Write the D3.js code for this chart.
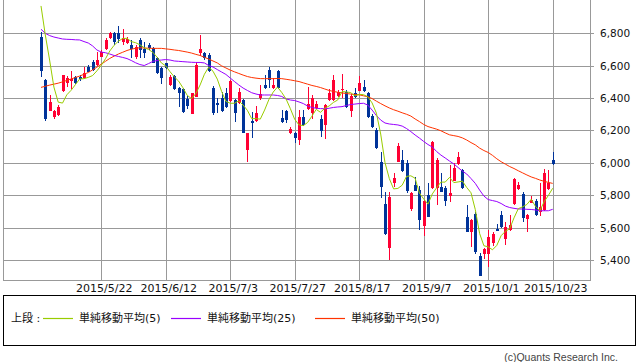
<!DOCTYPE html>
<html>
<head>
<meta charset="utf-8">
<script src="https://cdn.jsdelivr.net/npm/d3@7"></script>
<style>
  body { margin: 0; background: #fff; }
</style>
</head>
<body>
<div id="chart"></div>
<script>
// tick labels on the date axis, by trading-day index
var tickIdx = [14, 29, 44, 59, 74, 89, 104, 119];
var tickLabels = ["2015/5/22", "2015/6/12", "2015/7/3", "2015/7/27", "2015/8/17", "2015/9/7", "2015/10/1", "2015/10/23"];
var priceTicks = [5400, 5600, 5800, 6000, 6200, 6400, 6600, 6800];

// daily candles
var open = [6779, 6512, 6322, 6285, 6295, 6445, 6495, 6505, 6528, 6532,
  6522, 6594, 6623, 6604, 6655, 6701, 6769, 6800, 6800, 6746,
  6740, 6728, 6652, 6759, 6703, 6728, 6709, 6647, 6586, 6617,
  6481, 6536, 6462, 6456, 6394, 6302, 6407, 6678, 6678, 6666,
  6462, 6369, 6400, 6431, 6382, 6388, 6369, 6391, 6079, 6261,
  6258, 6399, 6481, 6573, 6462, 6570, 6274, 6323, 6186, 6182,
  6138, 6285, 6331, 6308, 6339, 6271, 6234, 6388, 6388, 6413,
  6450, 6439, 6322, 6431, 6445, 6470, 6429, 6289, 6203, 6007,
  5746, 5472, 5877, 6007, 6017, 5997, 5715, 5863, 5835, 5610,
  5801, 5843, 5847, 5851, 5844, 5795, 5890, 5991, 5956, 5667,
  5574, 5684, 5427, 5434, 5434, 5505, 5589, 5678, 5528, 5585,
  5747, 5838, 5810, 5651, 5754, 5767, 5696, 5708, 5836, 6017];
var high = [6810, 6518, 6419, 6326, 6357, 6542, 6536, 6569, 6536, 6542,
  6594, 6602, 6635, 6686, 6697, 6771, 6808, 6808, 6845, 6827,
  6777, 6759, 6728, 6773, 6748, 6742, 6715, 6654, 6592, 6618,
  6542, 6542, 6468, 6462, 6413, 6431, 6625, 6790, 6686, 6678,
  6474, 6400, 6437, 6462, 6512, 6394, 6462, 6394, 6184, 6314,
  6351, 6481, 6542, 6592, 6524, 6573, 6326, 6326, 6221, 6190,
  6326, 6326, 6470, 6419, 6379, 6295, 6363, 6456, 6542, 6450,
  6549, 6450, 6425, 6462, 6536, 6512, 6437, 6301, 6215, 6069,
  5822, 5822, 5937, 6122, 6079, 6017, 5820, 5912, 5857, 5770,
  5875, 6135, 6030, 5939, 5857, 5986, 5999, 6069, 5962, 5739,
  5653, 5696, 5445, 5474, 5585, 5573, 5622, 5702, 5636, 5678,
  5906, 5882, 5817, 5684, 5795, 5776, 5875, 5962, 5956, 6069];
var low = [6528, 6260, 6320, 6269, 6289, 6439, 6466, 6454, 6487, 6507,
  6516, 6561, 6567, 6600, 6653, 6697, 6765, 6728, 6740, 6728,
  6734, 6647, 6641, 6647, 6647, 6697, 6615, 6549, 6487, 6580,
  6474, 6450, 6345, 6310, 6332, 6302, 6407, 6660, 6635, 6563,
  6295, 6308, 6314, 6339, 6376, 6254, 6363, 6184, 6007, 6151,
  6252, 6388, 6456, 6462, 6456, 6456, 6246, 6246, 6181, 6122,
  6110, 6227, 6326, 6271, 6332, 6160, 6149, 6382, 6382, 6407,
  6400, 6339, 6283, 6400, 6443, 6440, 6277, 6215, 6085, 5783,
  5554, 5400, 5853, 6005, 5943, 5814, 5704, 5826, 5585, 5548,
  5665, 5838, 5739, 5820, 5733, 5760, 5888, 5986, 5838, 5573,
  5478, 5440, 5301, 5406, 5358, 5486, 5579, 5597, 5492, 5579,
  5742, 5832, 5636, 5574, 5749, 5672, 5672, 5702, 5832, 5986];
var close = [6569, 6269, 6376, 6318, 6343, 6541, 6522, 6518, 6491, 6516,
  6553, 6563, 6573, 6635, 6686, 6759, 6800, 6748, 6763, 6769,
  6765, 6701, 6714, 6697, 6678, 6709, 6617, 6557, 6524, 6586,
  6530, 6456, 6431, 6316, 6351, 6431, 6604, 6703, 6647, 6569,
  6308, 6360, 6320, 6345, 6505, 6310, 6437, 6186, 6184, 6249,
  6308, 6425, 6462, 6512, 6478, 6462, 6255, 6264, 6209, 6156,
  6285, 6234, 6363, 6400, 6366, 6198, 6357, 6433, 6512, 6439,
  6459, 6347, 6413, 6407, 6491, 6445, 6285, 6223, 6090, 5849,
  5560, 5791, 5906, 6104, 5951, 5826, 5815, 5828, 5650, 5764,
  5668, 6129, 6020, 5822, 5766, 5815, 5968, 6038, 5847, 5574,
  5647, 5449, 5304, 5465, 5539, 5560, 5581, 5604, 5602, 5616,
  5898, 5863, 5662, 5678, 5773, 5678, 5727, 5939, 5877, 5994];

// moving averages
var ma5 = [6969, 6790, 6635, 6468, 6375, 6369, 6420, 6448, 6483, 6518,
  6520, 6528, 6539, 6568, 6602, 6643, 6691, 6726, 6751, 6768,
  6769, 6749, 6742, 6729, 6711, 6700, 6683, 6652, 6617, 6599,
  6563, 6531, 6505, 6464, 6417, 6397, 6427, 6481, 6547, 6591,
  6566, 6517, 6441, 6380, 6368, 6368, 6383, 6357, 6324, 6273,
  6273, 6270, 6326, 6391, 6437, 6468, 6434, 6394, 6334, 6269,
  6234, 6230, 6249, 6288, 6330, 6312, 6337, 6351, 6373, 6388,
  6440, 6438, 6434, 6413, 6423, 6421, 6408, 6370, 6307, 6178,
  6001, 5903, 5839, 5842, 5862, 5916, 5920, 5905, 5814, 5777,
  5745, 5808, 5846, 5881, 5881, 5910, 5878, 5882, 5887, 5848,
  5815, 5711, 5564, 5488, 5481, 5463, 5490, 5550, 5577, 5593,
  5660, 5717, 5728, 5743, 5775, 5731, 5704, 5759, 5799, 5843];
var ma25 = [6825, 6800, 6786, 6777, 6771, 6765, 6763, 6762, 6760, 6759,
  6749, 6740, 6722, 6697, 6684, 6680, 6672, 6663, 6657, 6651,
  6644, 6632, 6618, 6607, 6601, 6613, 6626, 6632, 6635, 6638,
  6635, 6629, 6627, 6625, 6623, 6621, 6620, 6620, 6617, 6601,
  6592, 6576, 6561, 6546, 6524, 6502, 6481, 6462, 6447, 6433,
  6425, 6419, 6419, 6419, 6419, 6416, 6410, 6394, 6388, 6385,
  6376, 6366, 6351, 6342, 6337, 6335, 6334, 6337, 6342, 6345,
  6347, 6354, 6360, 6363, 6366, 6368, 6357, 6326, 6292, 6264,
  6246, 6240, 6237, 6234, 6227, 6212, 6193, 6172, 6153, 6132,
  6113, 6098, 6070, 6048, 6030, 6011, 5993, 5971, 5949, 5931,
  5903, 5873, 5832, 5795, 5773, 5767, 5761, 5749, 5733, 5724,
  5719, 5715, 5715, 5713, 5712, 5709, 5704, 5704, 5704, 5713];
var ma50 = [6466, 6473, 6480, 6486, 6492, 6500, 6509, 6518, 6527, 6536,
  6547, 6558, 6574, 6591, 6609, 6627, 6645, 6659, 6672, 6683,
  6694, 6702, 6707, 6711, 6709, 6708, 6707, 6707, 6707, 6704,
  6701, 6697, 6694, 6689, 6684, 6678, 6670, 6663, 6652, 6641,
  6629, 6617, 6599, 6586, 6573, 6562, 6552, 6542, 6533, 6527,
  6523, 6520, 6520, 6520, 6520, 6521, 6520, 6516, 6512, 6507,
  6502, 6494, 6486, 6478, 6472, 6465, 6456, 6447, 6441, 6436,
  6432, 6428, 6425, 6422, 6420, 6414, 6408, 6397, 6381, 6366,
  6352, 6339, 6328, 6319, 6309, 6300, 6289, 6271, 6255, 6237,
  6224, 6216, 6208, 6198, 6185, 6173, 6168, 6163, 6154, 6141,
  6125, 6111, 6091, 6076, 6064, 6046, 6025, 6007, 5992, 5977,
  5965, 5951, 5938, 5925, 5913, 5904, 5894, 5886, 5879, 5873];

var legendNames = ["単純移動平均(5)", "単純移動平均(25)", "単純移動平均(50)"];
var legendColors = ["#99cc00", "#9900ff", "#ff3300"];

var svgWidth = 638;
var svgHeight = 362;
var plot = { left: 3, right: 590, top: 0, bottom: 280 };
var upColor = "#ff0033";
var downColor = "#003399";

var svg = d3.select("#chart")
  .append("svg")
  .attr("width", svgWidth)
  .attr("height", svgHeight)
  .style("font-family", "'DejaVu Sans', 'Noto Sans CJK JP', sans-serif");

var xScale = d3.scaleLinear()
  .domain([0, open.length - 1])
  .range([41, 552.7]);

var yScale = d3.scaleLinear()
  .domain([5276.4, 7005.7])
  .range([plot.bottom, plot.top]);

// grid
var grid = svg.append("g")
  .attr("stroke", "#999")
  .attr("shape-rendering", "crispEdges");

grid.selectAll(".hgrid")
  .data(priceTicks)
  .enter()
  .append("line")
  .attr("x1", plot.left)
  .attr("x2", plot.right + 4)
  .attr("y1", d => Math.round(yScale(d)) + 0.5)
  .attr("y2", d => Math.round(yScale(d)) + 0.5);

grid.selectAll(".vgrid")
  .data(tickIdx)
  .enter()
  .append("line")
  .attr("x1", d => Math.round(xScale(d)) + 0.5)
  .attr("x2", d => Math.round(xScale(d)) + 0.5)
  .attr("y1", plot.top)
  .attr("y2", plot.bottom);

// plot frame (left, right, bottom)
grid.append("path")
  .attr("fill", "none")
  .attr("d", `M${plot.left + 0.5},${plot.top}V${plot.bottom + 0.5}H${plot.right + 0.5}V${plot.top}`);

// price axis labels
svg.append("g")
  .selectAll("text")
  .data(priceTicks)
  .enter()
  .append("text")
  .attr("x", 600)
  .attr("y", d => yScale(d) + 4)
  .attr("font-size", "10.5px")
  .attr("fill", "#111")
  .text(d => d3.format(",")(d));

// date labels
svg.append("g")
  .selectAll("text")
  .data(tickIdx)
  .enter()
  .append("text")
  .attr("x", d => xScale(d) + 3)
  .attr("y", 292)
  .attr("text-anchor", "middle")
  .attr("font-size", "11px")
  .attr("fill", "#111")
  .text((d, i) => tickLabels[i]);

// candles
var candles = svg.append("g").attr("shape-rendering", "crispEdges");
var idx = d3.range(open.length);

candles.selectAll(".wick")
  .data(idx)
  .enter()
  .append("line")
  .attr("x1", i => Math.round(xScale(i)) + 0.5)
  .attr("x2", i => Math.round(xScale(i)) + 0.5)
  .attr("y1", i => yScale(high[i]))
  .attr("y2", i => yScale(low[i]))
  .attr("stroke", i => close[i] >= open[i] ? upColor : downColor);

candles.selectAll(".body")
  .data(idx)
  .enter()
  .append("rect")
  .attr("x", i => Math.round(xScale(i)) - 1)
  .attr("width", 3)
  .attr("y", i => yScale(Math.max(open[i], close[i])))
  .attr("height", i => Math.max(1, Math.abs(yScale(open[i]) - yScale(close[i]))))
  .attr("fill", i => close[i] >= open[i] ? upColor : downColor);

// moving averages
var maSeries = [ma50, ma25, ma5];
var maColors = [legendColors[2], legendColors[1], legendColors[0]];
var lineGen = d3.line()
  .x((d, i) => xScale(i))
  .y(d => yScale(d));

svg.append("g")
  .selectAll("path")
  .data(maSeries)
  .enter()
  .append("path")
  .attr("d", d => lineGen(d))
  .attr("fill", "none")
  .attr("stroke", (d, i) => maColors[i])
  .attr("stroke-width", 1);

// legend
var legend = svg.append("g");
legend.append("rect")
  .attr("x", 3.5)
  .attr("y", 295.5)
  .attr("width", 632)
  .attr("height", 50)
  .attr("fill", "none")
  .attr("stroke", "#000")
  .attr("shape-rendering", "crispEdges");

legend.append("text")
  .attr("x", 11)
  .attr("y", 322)
  .attr("font-size", "11px")
  .attr("fill", "#111")
  .text("上段 :");

var legendX = [43, 171, 315];
legendNames.forEach((name, i) => {
  legend.append("line")
    .attr("x1", legendX[i])
    .attr("x2", legendX[i] + 30)
    .attr("y1", 318.5)
    .attr("y2", 318.5)
    .attr("stroke", legendColors[i])
    .attr("stroke-width", 1.2);
  legend.append("text")
    .attr("x", legendX[i] + 36)
    .attr("y", 322)
    .attr("font-size", "11px")
    .attr("fill", "#111")
    .text(name);
});

svg.append("text")
  .attr("x", 618)
  .attr("y", 361)
  .attr("text-anchor", "end")
  .attr("font-family", "'Liberation Sans', sans-serif")
  .attr("font-size", "10.5px")
  .attr("fill", "#444")
  .text("(c)Quants Research Inc.");
</script>
</body>
</html>
